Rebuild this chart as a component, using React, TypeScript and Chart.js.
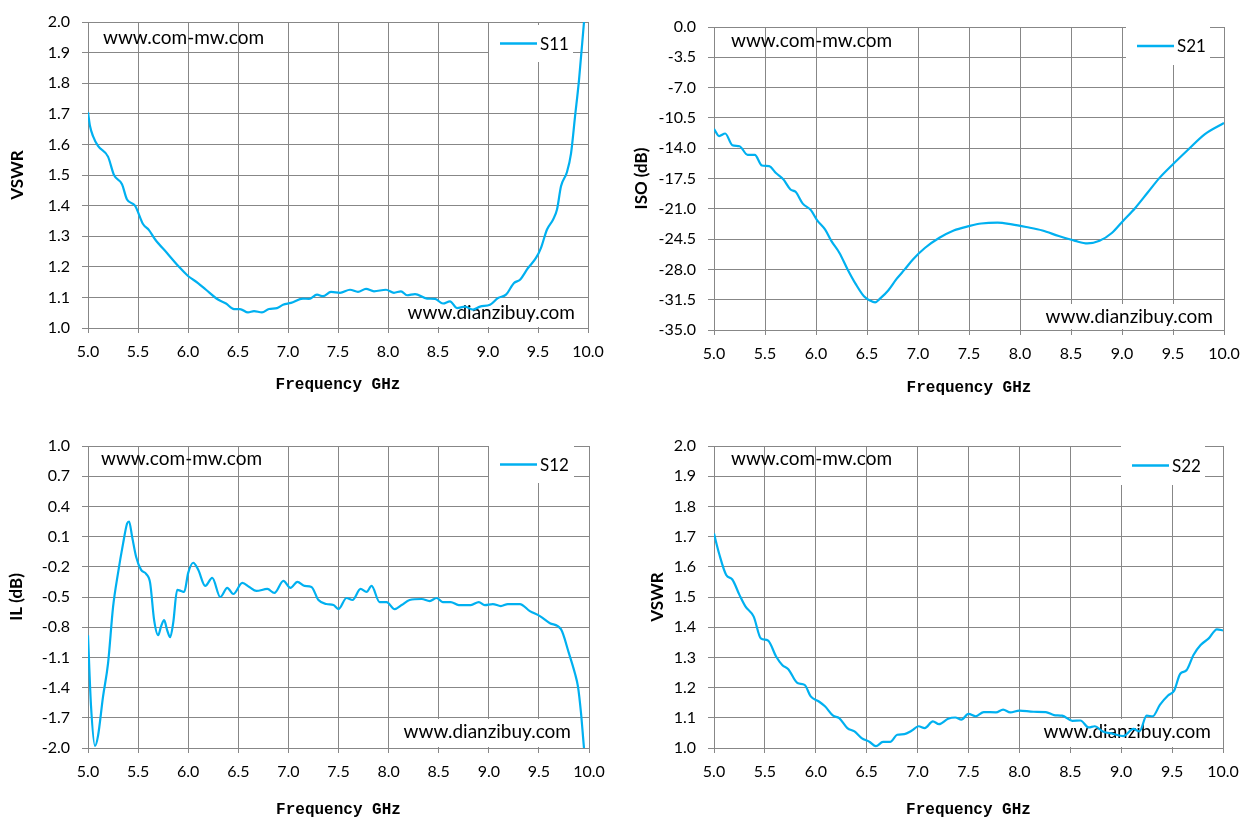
import { useEffect, useRef } from "react";
import { Chart, registerables } from "chart.js";

Chart.register(...registerables);

// ---------- data ----------
const xTickValues = [5.0, 5.5, 6.0, 6.5, 7.0, 7.5, 8.0, 8.5, 9.0, 9.5, 10.0];

const s11Freq = [5.0, 5.02, 5.05, 5.1, 5.2, 5.26, 5.34, 5.39, 5.47, 5.55, 5.61, 5.67, 5.79, 5.91, 6.0, 6.1, 6.18, 6.3, 6.38, 6.46, 6.52, 6.6, 6.66, 6.74, 6.81, 6.89, 6.95, 7.03, 7.15, 7.21, 7.29, 7.35, 7.43, 7.52, 7.62, 7.7, 7.78, 7.86, 7.98, 8.06, 8.13, 8.19, 8.27, 8.39, 8.47, 8.55, 8.62, 8.69, 8.77, 8.85, 8.92, 9.02, 9.1, 9.18, 9.26, 9.32, 9.4, 9.48, 9.53, 9.59, 9.65, 9.69, 9.73, 9.79, 9.83, 9.87, 9.91, 9.96, 10.0];
const s11Vswr = [1.705, 1.66, 1.627, 1.595, 1.56, 1.5, 1.47, 1.42, 1.4, 1.34, 1.32, 1.29, 1.245, 1.2, 1.17, 1.147, 1.125, 1.093, 1.08, 1.062, 1.062, 1.051, 1.055, 1.051, 1.062, 1.065, 1.076, 1.082, 1.096, 1.095, 1.109, 1.104, 1.118, 1.115, 1.125, 1.118, 1.128, 1.12, 1.125, 1.115, 1.12, 1.107, 1.111, 1.096, 1.095, 1.08, 1.087, 1.065, 1.07, 1.06, 1.07, 1.076, 1.098, 1.109, 1.147, 1.158, 1.196, 1.229, 1.262, 1.322, 1.354, 1.387, 1.463, 1.51, 1.57, 1.69, 1.81, 2.0, 2.15];

const s21Freq = [5.0, 5.05, 5.11, 5.18, 5.25, 5.33, 5.4, 5.47, 5.54, 5.61, 5.68, 5.75, 5.8, 5.87, 5.95, 6.01, 6.09, 6.15, 6.23, 6.31, 6.39, 6.47, 6.53, 6.58, 6.63, 6.71, 6.79, 6.87, 6.95, 7.07, 7.21, 7.35, 7.5, 7.62, 7.78, 7.92, 8.06, 8.22, 8.38, 8.54, 8.66, 8.78, 8.9, 9.01, 9.13, 9.25, 9.37, 9.49, 9.65, 9.81, 10.0];
const s21Iso = [-11.77, -12.6, -12.3, -13.65, -13.77, -14.77, -14.77, -16.0, -16.08, -16.9, -17.6, -18.77, -19.04, -20.4, -21.15, -22.3, -23.4, -24.7, -26.1, -28.0, -29.7, -31.1, -31.6, -31.8, -31.35, -30.4, -29.1, -28.0, -26.85, -25.5, -24.35, -23.5, -23.0, -22.7, -22.6, -22.8, -23.1, -23.5, -24.15, -24.7, -25.0, -24.7, -23.8, -22.4, -20.9, -19.15, -17.4, -15.96, -14.15, -12.4, -11.08];

const s12Freq = [5.0, 5.03, 5.07, 5.1, 5.15, 5.2, 5.25, 5.3, 5.35, 5.39, 5.41, 5.44, 5.48, 5.53, 5.58, 5.62, 5.66, 5.7, 5.73, 5.76, 5.79, 5.82, 5.85, 5.89, 5.93, 5.96, 6.0, 6.05, 6.1, 6.17, 6.24, 6.32, 6.39, 6.45, 6.54, 6.61, 6.68, 6.79, 6.86, 6.95, 7.02, 7.09, 7.16, 7.23, 7.3, 7.38, 7.45, 7.5, 7.58, 7.64, 7.72, 7.78, 7.83, 7.91, 7.98, 8.06, 8.13, 8.21, 8.33, 8.41, 8.48, 8.54, 8.62, 8.7, 8.82, 8.9, 8.96, 9.04, 9.12, 9.19, 9.31, 9.41, 9.51, 9.61, 9.72, 9.8, 9.86, 9.89, 9.92, 9.95, 9.98];
const s12Il = [-0.88, -1.58, -1.98, -1.88, -1.49, -1.16, -0.6, -0.26, 0.03, 0.23, 0.25, 0.1, -0.1, -0.23, -0.27, -0.36, -0.73, -0.88, -0.79, -0.73, -0.83, -0.9, -0.76, -0.43, -0.44, -0.45, -0.26, -0.16, -0.23, -0.39, -0.31, -0.5, -0.41, -0.47, -0.36, -0.4, -0.44, -0.42, -0.46, -0.34, -0.41, -0.35, -0.39, -0.4, -0.53, -0.57, -0.58, -0.62, -0.51, -0.53, -0.42, -0.45, -0.39, -0.55, -0.55, -0.62, -0.58, -0.53, -0.52, -0.54, -0.51, -0.55, -0.55, -0.58, -0.58, -0.55, -0.58, -0.57, -0.59, -0.57, -0.57, -0.64, -0.69, -0.76, -0.82, -1.06, -1.26, -1.39, -1.65, -2.0, -2.3];

const s22Freq = [5.0, 5.05, 5.12, 5.18, 5.25, 5.31, 5.39, 5.46, 5.53, 5.61, 5.67, 5.73, 5.82, 5.89, 5.95, 6.03, 6.09, 6.17, 6.23, 6.31, 6.38, 6.45, 6.53, 6.59, 6.66, 6.73, 6.8, 6.87, 6.94, 7.01, 7.07, 7.15, 7.21, 7.3, 7.37, 7.43, 7.5, 7.57, 7.65, 7.77, 7.84, 7.91, 8.0, 8.14, 8.26, 8.34, 8.42, 8.52, 8.6, 8.68, 8.74, 8.82, 8.92, 9.02, 9.12, 9.18, 9.25, 9.31, 9.38, 9.46, 9.52, 9.58, 9.64, 9.71, 9.78, 9.86, 9.94, 10.0];
const s22Vswr = [1.71, 1.644, 1.573, 1.558, 1.507, 1.468, 1.435, 1.363, 1.356, 1.303, 1.275, 1.261, 1.215, 1.209, 1.171, 1.154, 1.138, 1.107, 1.099, 1.066, 1.055, 1.033, 1.02, 1.006, 1.02, 1.02, 1.044, 1.046, 1.057, 1.072, 1.066, 1.088, 1.079, 1.097, 1.101, 1.094, 1.113, 1.105, 1.119, 1.118, 1.127, 1.118, 1.124, 1.12, 1.119, 1.109, 1.107, 1.09, 1.091, 1.068, 1.072, 1.055, 1.047, 1.039, 1.063, 1.055, 1.107, 1.105, 1.143, 1.174, 1.19, 1.246, 1.257, 1.308, 1.341, 1.363, 1.393, 1.389];

const vswrTicks = [1.0, 1.1, 1.2, 1.3, 1.4, 1.5, 1.6, 1.7, 1.8, 1.9, 2.0];
const isoTicks = [0.0, -3.5, -7.0, -10.5, -14.0, -17.5, -21.0, -24.5, -28.0, -31.5, -35.0];
const ilTicks = [1.0, 0.7, 0.4, 0.1, -0.2, -0.5, -0.8, -1.1, -1.4, -1.7, -2.0];

const xTitle = "Frequency GHz";
const siteTop = "www.com-mw.com";
const siteBottom = "www.dianzibuy.com";

// ---------- styling ----------
const LINE_COLOR = "#00B0F0";
const GRID_COLOR = "#878787";
const SANS = "Lato, 'Open Sans', sans-serif";

type Panel = {
  label: string;
  freq: number[];
  vals: number[];
  yTicks: number[];
  yTitle: string;
  box: { left: number; top: number; width: number; height: number };
  plot: { left: number; top: number; right: number; bottom: number };
  yTitleCenter: number;
  xTitleOffset: number;
  deco: {
    topText: { dx: number; dy: number };
    bottomText: { dxRight: number; dyBottom: number };
    legend: { dxRight: number; dy: number; w: number; h: number };
  };
};

const decoPlugin = {
  id: "deco",
  beforeDatasetsDraw(chart: any, _args: any, opts: any) {
    const { ctx, chartArea } = chart;
    if (!opts || !opts.topText) return;
    ctx.save();
    ctx.font = `19px ${SANS}`;
    ctx.fillStyle = "#000";
    ctx.textBaseline = "middle";
    ctx.textAlign = "left";
    ctx.fillText(siteTop, chartArea.left + opts.topText.dx, chartArea.top + opts.topText.dy);
    // bottom text with white box
    const w = ctx.measureText(siteBottom).width;
    const tx = chartArea.right - opts.bottomText.dxRight - w;
    const ty = chartArea.bottom - opts.bottomText.dyBottom;
    ctx.fillStyle = "#fff";
    ctx.fillRect(tx - 6, ty - 13, w + 12, chartArea.bottom - (ty - 13) - 1);
    ctx.fillStyle = "#000";
    ctx.fillText(siteBottom, tx, ty);
    ctx.restore();
  },
  afterDatasetsDraw(chart: any, _args: any, opts: any) {
    const { ctx, chartArea } = chart;
    if (!opts || !opts.legend) return;
    const lg = opts.legend;
    const bx = chartArea.right - lg.dxRight - lg.w;
    const by = chartArea.top + lg.dy;
    ctx.save();
    ctx.fillStyle = "#fff";
    ctx.fillRect(bx, by, lg.w, lg.h);
    const cy = by + lg.h / 2;
    ctx.strokeStyle = LINE_COLOR;
    ctx.lineWidth = 2.5;
    ctx.beginPath();
    ctx.moveTo(bx + 11, cy);
    ctx.lineTo(bx + 48, cy);
    ctx.stroke();
    ctx.fillStyle = "#000";
    ctx.font = `17px ${SANS}`;
    ctx.textBaseline = "middle";
    ctx.textAlign = "left";
    ctx.fillText(chart.data.datasets[0].label, bx + 51, cy + 1);
    ctx.restore();
  },
};

const panels: Panel[] = [
  {
    label: "S11",
    freq: s11Freq,
    vals: s11Vswr,
    yTicks: vswrTicks,
    yTitle: "VSWR",
    box: { left: 0, top: 0, width: 628, height: 418 },
    plot: { left: 88, top: 22, right: 588, bottom: 328 },
    yTitleCenter: 18,
    xTitleOffset: 33,
    deco: {
      topText: { dx: 15, dy: 16 },
      bottomText: { dxRight: 13, dyBottom: 15 },
      legend: { dxRight: 15, dy: 3, w: 84, h: 37 },
    },
  },
  {
    label: "S21",
    freq: s21Freq,
    vals: s21Iso,
    yTicks: isoTicks,
    yTitle: "ISO (dB)",
    box: { left: 628, top: 0, width: 629, height: 418 },
    plot: { left: 714, top: 27, right: 1224, bottom: 330 },
    yTitleCenter: 14,
    xTitleOffset: 30,
    deco: {
      topText: { dx: 17, dy: 14 },
      bottomText: { dxRight: 11, dyBottom: 13 },
      legend: { dxRight: 14, dy: 0, w: 84, h: 38 },
    },
  },
  {
    label: "S12",
    freq: s12Freq,
    vals: s12Il,
    yTicks: ilTicks,
    yTitle: "IL (dB)",
    box: { left: 0, top: 418, width: 628, height: 419 },
    plot: { left: 88, top: 446, right: 589, bottom: 748 },
    yTitleCenter: 17,
    xTitleOffset: 27,
    deco: {
      topText: { dx: 13, dy: 13 },
      bottomText: { dxRight: 18, dyBottom: 16 },
      legend: { dxRight: 15, dy: 0, w: 85, h: 37 },
    },
  },
  {
    label: "S22",
    freq: s22Freq,
    vals: s22Vswr,
    yTicks: vswrTicks,
    yTitle: "VSWR",
    box: { left: 628, top: 418, width: 629, height: 419 },
    plot: { left: 714, top: 446, right: 1223, bottom: 748 },
    yTitleCenter: 30,
    xTitleOffset: 27,
    deco: {
      topText: { dx: 17, dy: 13 },
      bottomText: { dxRight: 12, dyBottom: 16 },
      legend: { dxRight: 18, dy: 0, w: 84, h: 39 },
    },
  },
];

function Panel({ p }: { p: Panel }) {
  const ref = useRef<HTMLCanvasElement | null>(null);
  useEffect(() => {
    if (!ref.current) return;
    const yMin = Math.min(...p.yTicks);
    const yMax = Math.max(...p.yTicks);
    const yStep = Math.abs(p.yTicks[1] - p.yTicks[0]);
    const yAxisWidth = p.plot.left - p.box.left;
    const xAxisHeight = p.box.top + p.box.height - p.plot.bottom;
    const yTitleFont = 17;
    const xTitleFont = 16;
    const chart = new Chart(ref.current, {
      type: "line",
      data: {
        datasets: [
          {
            label: p.label,
            data: p.freq.map((f, i) => ({ x: f, y: p.vals[i] })),
            borderColor: LINE_COLOR,
            borderWidth: 2.2,
            pointRadius: 0,
            fill: false,
            cubicInterpolationMode: "monotone",
          },
        ],
      },
      options: {
        animation: false,
        responsive: false,
        devicePixelRatio: 1,
        layout: {
          padding: {
            left: 0,
            top: p.plot.top - p.box.top,
            right: p.box.left + p.box.width - p.plot.right,
            bottom: 0,
          },
        },
        plugins: {
          legend: { display: false },
          tooltip: { enabled: false },
          deco: p.deco,
        } as any,
        scales: {
          x: {
            type: "linear",
            min: xTickValues[0],
            max: xTickValues[xTickValues.length - 1],
            afterFit: (s: any) => {
              s.height = xAxisHeight;
            },
            afterBuildTicks: (s: any) => {
              s.ticks = xTickValues.map((v) => ({ value: v }));
            },
            ticks: {
              font: { family: SANS, size: 16 },
              color: "#000",
              padding: 9,
              maxRotation: 0,
              callback: (v: any) => Number(v).toFixed(1),
            },
            grid: { color: GRID_COLOR, lineWidth: 1, tickLength: 5, drawTicks: true },
            border: { color: GRID_COLOR, width: 1 },
            title: {
              display: true,
              text: xTitle,
              font: { family: "'Liberation Mono', 'DejaVu Sans Mono', monospace", size: xTitleFont, weight: "bold" },
              color: "#000",
              padding: { top: 0, bottom: p.xTitleOffset - (xTitleFont * 1.2) / 2 },
            },
          },
          y: {
            type: "linear",
            min: yMin,
            max: yMax,
            afterFit: (s: any) => {
              s.width = yAxisWidth;
            },
            afterBuildTicks: (s: any) => {
              s.ticks = [...p.yTicks].sort((a, b) => a - b).map((v) => ({ value: v }));
            },
            ticks: {
              stepSize: yStep,
              font: { family: SANS, size: 16 },
              color: "#000",
              padding: 12,
              callback: (v: any) => Number(v).toFixed(1),
            },
            grid: { color: GRID_COLOR, lineWidth: 1, tickLength: 6, drawTicks: true },
            border: { color: GRID_COLOR, width: 1 },
            title: {
              display: true,
              text: p.yTitle,
              font: { family: SANS, size: yTitleFont, weight: "bold" },
              color: "#000",
              padding: { top: p.yTitleCenter - (yTitleFont * 1.2) / 2, bottom: 0 },
            },
          },
        },
      } as any,
      plugins: [decoPlugin as any],
    });
    return () => chart.destroy();
  }, [p]);
  return (
    <canvas
      ref={ref}
      width={p.box.width}
      height={p.box.height}
      style={{
        position: "absolute",
        left: p.box.left,
        top: p.box.top,
        width: p.box.width,
        height: p.box.height,
      }}
    />
  );
}

export default function App() {
  return (
    <div
      style={{
        position: "fixed",
        left: 0,
        top: 0,
        width: 1257,
        height: 837,
        background: "#fff",
        overflow: "hidden",
      }}
    >
      {panels.map((p) => (
        <Panel key={p.label} p={p} />
      ))}
    </div>
  );
}
